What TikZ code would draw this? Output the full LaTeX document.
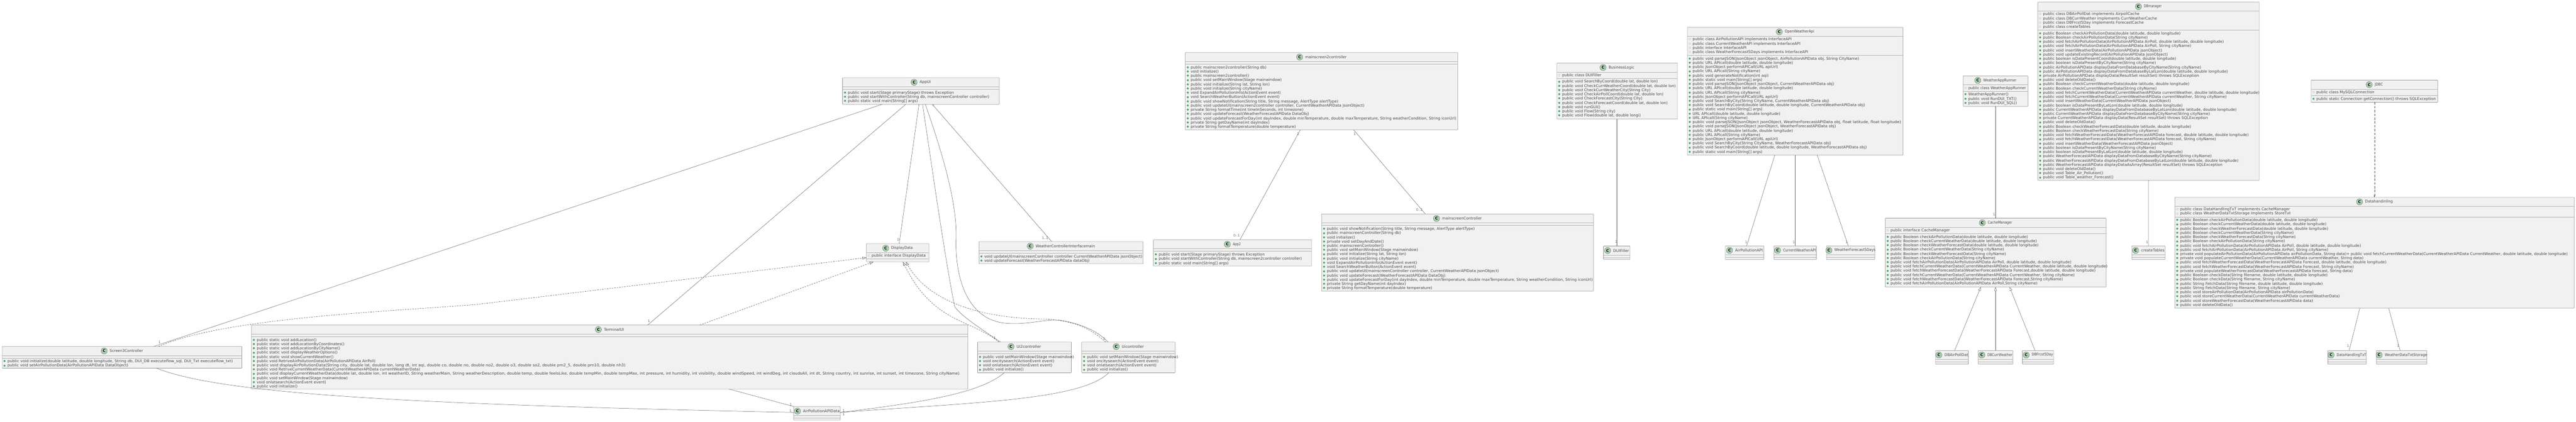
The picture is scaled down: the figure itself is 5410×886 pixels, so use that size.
\documentclass[tikz,border=0pt]{standalone}
\usepackage{fontspec}
\setmainfont{DejaVu Sans}
\usetikzlibrary{fit,arrows.meta}
\definecolor{umlgreen}{HTML}{4FA56B}
\definecolor{umlfill}{HTML}{F1F1F1}
\definecolor{umlbadge}{HTML}{ADD1B2}
\tikzset{
  classbox/.style={draw=black!42,line width=0.7pt,fill=umlfill,rounded corners=0.8pt,inner sep=0pt,outer sep=0pt},
  classsep/.style={draw=black!30,line width=0.7pt},
  classtitle/.style={font=\fontsize{8}{8.9}\selectfont,text=black!72,inner sep=0pt},
  classbadge/.style={circle,draw=black!65,line width=0.4pt,fill=umlbadge,minimum size=13pt,inner sep=0pt,font=\fontsize{8}{8}\selectfont\bfseries,text=black},
  fieldlist/.style={anchor=north west,align=left,inner xsep=0pt,inner ysep=2.4pt,minimum height=5pt,font=\fontsize{8}{8.9}\selectfont,text=black!72},
  methodlist/.style={anchor=north west,align=left,inner xsep=0pt,inner ysep=3pt,font=\fontsize{8}{8.9}\selectfont,text=black!72},
  assocline/.style={draw=black!62,line width=0.55pt},
  implline/.style={draw=black!70,line width=0.6pt,dashed,dash pattern=on 3pt off 2.2pt},
  mult/.style={font=\fontsize{7}{8}\selectfont,text=black!60,inner sep=0pt},
  opentip/.style={-{Triangle[open,fill=white,length=8pt,width=5.5pt]}},
}
\newcommand{\umlstrut}{\rule[-1.25pt]{0pt}{7.6pt}}
\newcommand{\mth}[1]{\umlstrut\makebox[11pt][l]{\hspace{2.6pt}\raisebox{0.9pt}{\textcolor{umlgreen}{\fontsize{5.5}{5.5}\selectfont ●}}}#1}
\newcommand{\fld}[1]{\umlstrut\makebox[11pt][l]{\hspace{2.6pt}\raisebox{0.9pt}{\textcolor{umlgreen}{\fontsize{5.5}{5.5}\selectfont ○}}}#1}
\newcommand{\nrw}[2]{\scalebox{#1}[1]{#2}}
\newcommand{\umlclass}[8]{%
  \node[classbox,fit={(#2,#3) (#4,#5)}] (#1) {};
  \node[classtitle,label={[classbadge,name=#1c,label distance=4.8pt]left:C}] (#1t) at ([xshift=9.1pt,yshift=-9.5pt]#1.north) {#6};
  \node[fieldlist] (#1f) at ([yshift=-19pt]#1.north west) {#7};
  \node[methodlist] (#1m) at (#1f.south west) {#8};
  \draw[classsep] ([yshift=-19pt]#1.north west) -- ([yshift=-19pt]#1.north east);
  \draw[classsep] (#1f.south -| #1.west) -- (#1f.south -| #1.east);
}
\begin{document}
\begin{tikzpicture}[x=1pt,y=-1pt]
  \useasboundingbox (0,0) rectangle (5410,886);

  \umlclass{screenthree}{4.5}{727.5}{508}{773}{\nrw{.97}{Screen3Controller}}{}{%
    \mth{\nrw{1.02}{public void initialize(double latitude, double longitude, String db, DUI\_DB executeflow\_sql, DUI\_Txt executeflow\_txt)}}\\
    \mth{public void setAirPollutionData(AirPollutionAPIData DataObject)}}
  \umlclass{terminalui}{528}{682.5}{2032.6}{817}{TerminalUI}{}{%
    \mth{public static void addLocation()}\\
    \mth{public static void addLocationByCoordinates()}\\
    \mth{public static void addLocationByCityName()}\\
    \mth{public static void displayWeatherOptions()}\\
    \mth{public static void showCurrentWeather()}\\
    \mth{public void RetriveAirPollutionData(AirPollutionAPIData AirPoll)}\\
    \mth{\nrw{1.04}{public void displayAirPollutionData(String city, double lat, double lon, long dt, int aqi, double co, double no, double no2, double o3, double so2, double pm2\_5, double pm10, double nh3)}}\\
    \mth{public void RetriveCurrentWeatherData(CurrentWeatherAPIData currentWeatherData)}\\
    \mth{\nrw{1.04}{public void displayCurrentWeatherData(double lat, double lon, int weatherID, String weatherMain, String weatherDescription, double temp, double feelsLike, double tempMin, double tempMax, int pressure, int humidity, int visibility, double windSpeed, int windDeg, int cloudsAll, int dt, String country, int sunrise, int sunset, int timezone, String cityName)}}\\
    \mth{public void setMainWindow(Stage mainwindow)}\\
    \mth{void onlatsearch(ActionEvent event)}\\
    \mth{public void initialize()}}
  \umlclass{displaydata}{1819.5}{511.7}{1951}{549.8}{\nrw{.93}{DisplayData}}{\fld{public interface DisplayData}}{}
  \umlclass{airpolldata}{1667}{853.7}{1764.7}{882}{AirPollutionAPIData}{}{}
  \umlclass{appui}{1769.6}{163.3}{2098.7}{219}{AppUi}{}{%
    \mth{public void start(Stage primaryStage) throws Exception}\\
    \mth{public void startWithController(String db, mainscreenController controller)}\\
    \mth{public static void main(String[] args)}}
  \umlclass{weatherctrl}{2056}{507.3}{2400.6}{553.8}{\nrw{.965}{WeatherControllerInterfacemain}}{}{%
    \mth{void updateUI(mainscreenController controller CurrentWeatherAPIData jsonObject)}\\
    \mth{void updateForecast(WeatherForecastAPIData dataObj)}}
  \umlclass{apptwo}{2422.3}{503.4}{2754.6}{558.4}{\nrw{.8}{App2}}{}{%
    \mth{public void start(Stage primaryStage) throws Exception}\\
    \mth{public void startWithController(String db, mainscreen2controller controller)}\\
    \mth{public static void main(String[] args)}}
  \umlclass{uitwo}{2053}{718.3}{2250}{782.8}{Ui2controller}{}{%
    \mth{public void setMainWindow(Stage mainwindow)}\\
    \mth{void oncitysearch(ActionEvent event)}\\
    \mth{void onlatsearch(ActionEvent event)}\\
    \mth{public void initialize()}}
  \umlclass{uione}{2271.8}{718.3}{2468}{782.8}{Uicontroller}{}{%
    \mth{public void setMainWindow(Stage mainwindow)}\\
    \mth{void oncitysearch(ActionEvent event)}\\
    \mth{void onlatsearch(ActionEvent event)}\\
    \mth{public void initialize()}}
  \umlclass{mainscreentwo}{2489.3}{110.3}{3061.6}{272.7}{\nrw{.97}{mainscreen2controller}}{}{%
    \mth{public mainscreen2controller(String db)}\\
    \mth{void initialize()}\\
    \mth{public mainscreen2controller()}\\
    \mth{public void setMainWindow(Stage mainwindow)}\\
    \mth{public void initialize(String lat, String lon)}\\
    \mth{public void initialize(String cityName)}\\
    \mth{void ExpandAirPollutionInfo(ActionEvent event)}\\
    \mth{void SearchWeatherButton(ActionEvent event)}\\
    \mth{public void showNotification(String title, String message, AlertType alertType)}\\
    \mth{public void updateUI(mainscreen2controller controller, CurrentWeatherAPIData jsonObject)}\\
    \mth{private String formatTime(int timeInSeconds, int timezone)}\\
    \mth{public void updateForecast(WeatherForecastAPIData DataObj)}\\
    \mth{public void updateForecastForDay(int dayIndex, double minTemperature, double maxTemperature, String weatherCondition, String iconUrl)}\\
    \mth{private String getDayName(int dayIndex)}\\
    \mth{private String formatTemperature(double temperature)}}
  \umlclass{mainscreen}{2775.7}{449.3}{3346.6}{611.3}{\nrw{.97}{mainscreenController}}{}{%
    \mth{public void showNotification(String title, String message, AlertType alertType)}\\
    \mth{public mainscreenController(String db)}\\
    \mth{void initialize()}\\
    \mth{private void setDayAndDate()}\\
    \mth{public mainscreenController()}\\
    \mth{public void setMainWindow(Stage mainwindow)}\\
    \mth{public void initialize(String lat, String lon)}\\
    \mth{public void initialize(String cityName)}\\
    \mth{void ExpandAirPollutionInfo(ActionEvent event)}\\
    \mth{void SearchWeatherButton(ActionEvent event)}\\
    \mth{public void updateUI(mainscreenController controller, CurrentWeatherAPIData jsonObject)}\\
    \mth{public void updateForecast(WeatherForecastAPIData DataObj)}\\
    \mth{public void updateForecastForDay(int dayIndex, double minTemperature, double maxTemperature, String weatherCondition, String iconUrl)}\\
    \mth{private String getDayName(int dayIndex)}\\
    \mth{private String formatTemperature(double temperature)}}
  \umlclass{businesslogic}{3269.6}{132.3}{3522.8}{250}{\nrw{.96}{BusinessLogic}}{\fld{public class DUIFiller}}{%
    \mth{public void SearchByCoord(double lat, double lon)}\\
    \mth{public void CheckCurrWeatherCoord(double lat, double lon)}\\
    \mth{public void CheckCurrWeatherCity(String City)}\\
    \mth{public void CheckAirPollCoord(double lat, double lon)}\\
    \mth{public void CheckForecastCity(String City)}\\
    \mth{public void CheckForecastCoord(double lat, double lon)}\\
    \mth{public void runGUI()}\\
    \mth{public void Flow(String city)}\\
    \mth{public void Flow(double lat, double longi)}}
  \umlclass{duifiller}{3367.7}{516.7}{3423.3}{544.7}{DUIFiller}{}{}
  \umlclass{openweather}{3543.6}{57.3}{3996.6}{325.7}{\nrw{.91}{OpenWeatherApi}}{%
    \fld{public class AirPollutionAPI implements InterfaceAPI}\\
    \fld{public class CurrentWeatherAPI implements InterfaceAPI}\\
    \fld{public interface InterfaceAPI}\\
    \fld{public class WeatherForecast5Days implements InterfaceAPI}}{%
    \mth{public void parseJSON(JsonObject jsonObject, AirPollutionAPIData obj, String CityName)}\\
    \mth{public URL APIcall(double latitude, double longitude)}\\
    \mth{public JsonObject performAPICall(URL apiUrl)}\\
    \mth{public URL APIcall(String cityName)}\\
    \mth{public void generateNotification(int aqi)}\\
    \mth{public static void main(String[] args)}\\
    \mth{public void parseJSON(JsonObject jsonObject, CurrentWeatherAPIData obj)}\\
    \mth{public URL APIcall(double latitude, double longitude)}\\
    \mth{public URL APIcall(String cityName)}\\
    \mth{public JsonObject performAPICall(URL apiUrl)}\\
    \mth{public void SearchByCity(String CityName, CurrentWeatherAPIData obj)}\\
    \mth{public void SearchByCoord(double latitude, double longitude, CurrentWeatherAPIData obj)}\\
    \mth{public static void main(String[] args)}\\
    \mth{URL APIcall(double latitude, double longitude)}\\
    \mth{URL APIcall(String cityName)}\\
    \mth{\nrw{1.04}{public void parseJSON(JsonObject jsonObject, WeatherForecastAPIData obj, float latitude, float longitude)}}\\
    \mth{public void parseJSON(JsonObject jsonObject, WeatherForecastAPIData obj)}\\
    \mth{public URL APIcall(double latitude, double longitude)}\\
    \mth{public URL APIcall(String cityName)}\\
    \mth{public JsonObject performAPICall(URL apiUrl)}\\
    \mth{public void SearchByCity(String CityName, WeatherForecastAPIData obj)}\\
    \mth{public void SearchByCoord(double latitude, double longitude, WeatherForecastAPIData obj)}\\
    \mth{public static void main(String[] args)}}
  \umlclass{airpollapi}{3623.4}{516.3}{3704.4}{545}{AirPollutionAPI}{}{}
  \umlclass{currweatherapi}{3725.6}{516.3}{3814.6}{545}{\nrw{.9}{CurrentWeatherAPI}}{}{}
  \umlclass{forecastapi}{3835.8}{516.3}{3937.4}{545}{\nrw{.93}{WeatherForecast5Days}}{}{}
  \umlclass{apprunner}{4122.8}{159.3}{4258.9}{223.3}{\nrw{.89}{WeatherAppRunner}}{\fld{\nrw{.95}{public class WeatherAppRunner}}}{%
    \mth{WeatherAppRunner()}\\
    \mth{public void RunDUI\_TXT()}\\
    \mth{public void RunDUI\_SQL()}}
  \umlclass{cachemanager}{3959.2}{458.3}{4423.2}{602.7}{\nrw{.85}{CacheManager}}{\fld{public interface CacheManager}}{%
    \mth{public Boolean checkAirPollutionData(double latitude, double longitude)}\\
    \mth{public Boolean checkCurrentWeatherData(double latitude, double longitude)}\\
    \mth{public Boolean checkWeatherForecastData(double latitude, double longitude)}\\
    \mth{public Boolean checkCurrentWeatherData(String cityName)}\\
    \mth{public Boolean checkWeatherForecastData(String cityName)}\\
    \mth{public Boolean checkAirPollutionData(String cityName)}\\
    \mth{public void fetchAirPollutionData(AirPollutionAPIData AirPoll, double latitude, double longitude)}\\
    \mth{public void fetchCurrentWeatherData(CurrentWeatherAPIData CurrentWeather, double latitude, double longitude)}\\
    \mth{public void fetchWeatherForecastData(WeatherForecastAPIData Forecast,double latitude, double longitude)}\\
    \mth{public void fetchCurrentWeatherData(CurrentWeatherAPIData CurrentWeather, String cityName)}\\
    \mth{public void fetchWeatherForecastData(WeatherForecastAPIData Forecast,String cityName)}\\
    \mth{public void fetchAirPollutionData(AirPollutionAPIData AirPoll,String cityName)}}
  \umlclass{dbmanager}{4279.6}{4.3}{4744.7}{378.7}{\nrw{.78}{DBmanager}}{%
    \fld{public class DBAirPollDat implements AirpollCache}\\
    \fld{public class DBCurrWeather implements CurrWeatherCache}\\
    \fld{public class DBFrcst5Day implements ForecastCache}\\
    \fld{public class createTables}}{%
    \mth{public Boolean checkAirPollutionData(double latitude, double longitude)}\\
    \mth{public Boolean checkAirPollutionData(String cityName)}\\
    \mth{public void fetchAirPollutionData(AirPollutionAPIData AirPoll, double latitude, double longitude)}\\
    \mth{public void fetchAirPollutionData(AirPollutionAPIData AirPoll, String cityName)}\\
    \mth{public void insertWeatherData(AirPollutionAPIData jsonObject)}\\
    \mth{public void updateExistingRecord(AirPollutionAPIData jsonObject)}\\
    \mth{public boolean isDataPresentCoord(double latitude, double longitude)}\\
    \mth{public boolean isDataPresentByCityName(String cityName)}\\
    \mth{public AirPollutionAPIData displayDataFromDatabaseByCityName(String cityName)}\\
    \mth{public AirPollutionAPIData displayDataFromDatabaseByLatLon(double latitude, double longitude)}\\
    \mth{private AirPollutionAPIData displayData(ResultSet resultSet) throws SQLException}\\
    \mth{public void deleteOldData()}\\
    \mth{public Boolean checkCurrentWeatherData(double latitude, double longitude)}\\
    \mth{public Boolean checkCurrentWeatherData(String cityName)}\\
    \mth{public void fetchCurrentWeatherData(CurrentWeatherAPIData currentWeather, double latitude, double longitude)}\\
    \mth{public void fetchCurrentWeatherData(CurrentWeatherAPIData currentWeather, String cityName)}\\
    \mth{public void insertWeatherData(CurrentWeatherAPIData jsonObject)}\\
    \mth{public boolean isDataPresentByLatLon(double latitude, double longitude)}\\
    \mth{public CurrentWeatherAPIData displayDataFromDatabaseByLatLon(double latitude, double longitude)}\\
    \mth{public CurrentWeatherAPIData displayDataFromDatabaseByCityName(String cityName)}\\
    \mth{private CurrentWeatherAPIData displayData(ResultSet resultSet) throws SQLException}\\
    \mth{public void deleteOldData()}\\
    \mth{public Boolean checkWeatherForecastData(double latitude, double longitude)}\\
    \mth{public Boolean checkWeatherForecastData(String cityName)}\\
    \mth{public void fetchWeatherForecastData(WeatherForecastAPIData forecast, double latitude, double longitude)}\\
    \mth{public void fetchWeatherForecastData(WeatherForecastAPIData forecast, String cityName)}\\
    \mth{public void insertWeatherData(WeatherForecastAPIData jsonObject)}\\
    \mth{public boolean isDataPresentByCityName(String cityName)}\\
    \mth{public boolean isDataPresentByLatLon(double latitude, double longitude)}\\
    \mth{public WeatherForecastAPIData displayDataFromDatabaseByCityName(String cityName)}\\
    \mth{public WeatherForecastAPIData displayDataFromDatabaseByLatLon(double latitude, double longitude)}\\
    \mth{public WeatherForecastAPIData displayDataAsArray(ResultSet resultSet) throws SQLException}\\
    \mth{public void deleteOldData()}\\
    \mth{public void Table\_Air\_Pollution()}\\
    \mth{public void Table\_weather\_Forecast()}}
  \umlclass{jdbc}{4853.6}{168.3}{5119.7}{214.7}{\nrw{.87}{JDBC}}{\fld{public class MySQLConnection}}{%
    \mth{public static Connection getConnection() throws SQLException}}
  \umlclass{datahandling}{4567.5}{414.3}{5406.4}{647}{\nrw{.95}{Datahandinling}}{%
    \fld{public class DataHandlingTxT implements CacheManager}\\
    \fld{public class WeatherDataTxtStorage implements StoreTxt}}{%
    \mth{public Boolean checkAirPollutionData(double latitude, double longitude)}\\
    \mth{public Boolean checkCurrentWeatherData(double latitude, double longitude)}\\
    \mth{public Boolean checkWeatherForecastData(double latitude, double longitude)}\\
    \mth{public Boolean checkCurrentWeatherData(String cityName)}\\
    \mth{public Boolean checkWeatherForecastData(String cityName)}\\
    \mth{public Boolean checkAirPollutionData(String cityName)}\\
    \mth{public void fetchAirPollutionData(AirPollutionAPIData AirPoll, double latitude, double longitude)}\\
    \mth{public void fetchAirPollutionData(AirPollutionAPIData AirPoll, String cityName)}\\
    \mth{private void populateAirPollutionData(AirPollutionAPIData airPollutionData, String data)+ public void fetchCurrentWeatherData(CurrentWeatherAPIData CurrentWeather, double latitude, double longitude)}\\
    \mth{private void populateCurrentWeatherData(CurrentWeatherAPIData currentWeather, String data)}\\
    \mth{public void fetchWeatherForecastData(WeatherForecastAPIData Forecast, double latitude, double longitude)}\\
    \mth{public void fetchWeatherForecastData(WeatherForecastAPIData Forecast, String cityName)}\\
    \mth{private void populateWeatherForecastData(WeatherForecastAPIData forecast, String data)}\\
    \mth{public Boolean checkData(String filename, double latitude, double longitude)}\\
    \mth{public Boolean checkData(String filename, String cityName)}\\
    \mth{public String FetchData(String filename, double latitude, double longitude)}\\
    \mth{public String FetchData(String filename, String cityName)}\\
    \mth{public void storeAirPollutionData(AirPollutionAPIData airPollutionData)}\\
    \mth{public void storeCurrentWeatherData(CurrentWeatherAPIData currentWeatherData)}\\
    \mth{public void storeWeatherForecastData(WeatherForecastAPIData data)}\\
    \mth{public void deleteOldData()}}
  \umlclass{createtables}{4477.3}{516.3}{4546.9}{545}{\nrw{.97}{createTables}}{}{}
  \umlclass{dbairpoll}{4064.9}{736}{4133.8}{764.7}{\nrw{.98}{DBAirPollDat}}{}{}
  \umlclass{dbcurr}{4154.4}{736}{4227.3}{764.7}{\nrw{.84}{DBCurrWeather}}{}{}
  \umlclass{dbfrcst}{4247.4}{736}{4312.9}{764.7}{\nrw{.87}{DBFrcst5Day}}{}{}
  \umlclass{datatxt}{4889}{736}{4969.6}{764.7}{\nrw{.9}{DataHandlingTxT}}{}{}
  \umlclass{txtstorage}{4990.9}{736}{5096.5}{764.7}{\nrw{.92}{WeatherDataTxtStorage}}{}{}

  \draw[assocline] ([xshift=-81.45pt]appui.south) -- ([xshift=66.75pt]screenthree.north);
  \draw[assocline] ([xshift=-31.95pt]appui.south) -- ([xshift=80pt]terminalui.north);
  \draw[assocline] ([xshift=-4.15pt]appui.south) -- ([xshift=3.15pt]displaydata.north);
  \draw[assocline] ([xshift=3.35pt]appui.south) .. controls (1960,370) and (1985,545) .. (2005,644) .. controls (2020,665) and (2060,690) .. ([xshift=-50.5pt]uitwo.north);
  \draw[assocline] ([xshift=9.15pt]appui.south) .. controls (1975,310) and (2010,420) .. (2008,500) .. controls (2005,580) and (2030,675) .. (2117,679) .. controls (2165,682) and (2200,668) .. (2230,673) .. controls (2270,680) and (2305,695) .. ([xshift=-42.9pt]uione.north);
  \draw[assocline,{Diamond[open,fill=white,length=5pt,width=3.5pt]}-] ([xshift=23.85pt]appui.south) -- ([xshift=-19.6pt]weatherctrl.north);
  \draw[assocline] ([xshift=-44.6pt]mainscreentwo.south) -- ([xshift=15.6pt]apptwo.north);
  \draw[assocline] ([xshift=67.45pt]mainscreentwo.south) -- ([xshift=-67.75pt]mainscreen.north);
  \draw[assocline] ([xshift=-0.7pt]businesslogic.south) -- (duifiller.north);
  \draw[assocline] ([xshift=-42.8pt]openweather.south) -- ([xshift=4.3pt]airpollapi.north);
  \draw[assocline] (openweather.south) -- (currweatherapi.north);
  \draw[assocline] ([xshift=46.2pt]openweather.south) -- ([xshift=-4.9pt]forecastapi.north);
  \draw[assocline] (apprunner.south) -- ([xshift=-0.35pt]cachemanager.north);
  \draw[assocline] (dbmanager.south) -- (createtables.north);
  \draw[assocline] ([xshift=-30.95pt]datahandling.south) -- ([xshift=4.2pt]datatxt.north);
  \draw[assocline] ([xshift=29.65pt]datahandling.south) -- ([xshift=-3.2pt]txtstorage.north);
  \draw[assocline] ([xshift=72.15pt]screenthree.south) .. controls (470,830) and (900,850) .. ([yshift=1.85pt]airpolldata.west);
  \draw[assocline] ([xshift=250.7pt]terminalui.south) -- (airpolldata.north west);
  \draw[assocline] ([xshift=-42.5pt]uitwo.south) .. controls (2060,825) and (1940,845) .. ([yshift=1.85pt]airpolldata.east);
  \draw[assocline] ([xshift=-41.3pt]uione.south) .. controls (2270,840) and (2050,845) .. ([yshift=1.85pt]airpolldata.east);

  \draw[assocline,opentip] ([xshift=5.65pt]dbairpoll.north) -- ([xshift=-31.2pt]cachemanager.south);
  \draw[assocline,opentip] (dbcurr.north) -- ([xshift=-0.35pt]cachemanager.south);
  \draw[assocline,opentip] ([xshift=-6.35pt]dbfrcst.north) -- ([xshift=29.2pt]cachemanager.south);

  \draw[implline,opentip] ([xshift=76.75pt]screenthree.north) .. controls (470,668) and (800,655) .. (1000,639.5) -- ([yshift=-10.25pt]displaydata.west);
  \draw[implline,opentip] ([xshift=189.7pt]terminalui.north) -- ([xshift=-51pt]displaydata.south);
  \draw[implline,opentip] ([xshift=-53.8pt]uitwo.north) .. controls (2040,670) and (1960,680) .. ([xshift=11pt]displaydata.south);
  \draw[implline,opentip] ([xshift=-47.9pt]uione.north) .. controls (2290,690) and (2260,675) .. (2200,670) .. controls (2100,670) and (1960,650) .. ([xshift=17.15pt]displaydata.south);
  \draw[implline,dash pattern=on 5pt off 3pt,-{Stealth[length=4.5pt,width=3.5pt]}] (jdbc.south) -- ([xshift=-0.3pt]datahandling.north);

  \foreach \lx/\ly/\lt [count=\i] in {335/718.5/1,1363/674.7/1,1886/503.5/1,2089/710/1,2319/710.5/1,2195/499.5/1..1,
    2726/281.7/1,2597/494.4/0..1,2845/281.7/1,2981/441/0..1,3394/508/1,3667/508.3/1,3767.5/508.3/1,3878.3/508.3/1,
    4188/450/1,4509.5/508.3/1,4931/726.7/1,5036.6/726.7/1,1660/862/1,1660.7/849.6/1,1771.7/862.5/1,1771.7/870.6/1}
    \node[mult] (mult\i) at (\lx,\ly) {\lt};
\end{tikzpicture}
\end{document}
